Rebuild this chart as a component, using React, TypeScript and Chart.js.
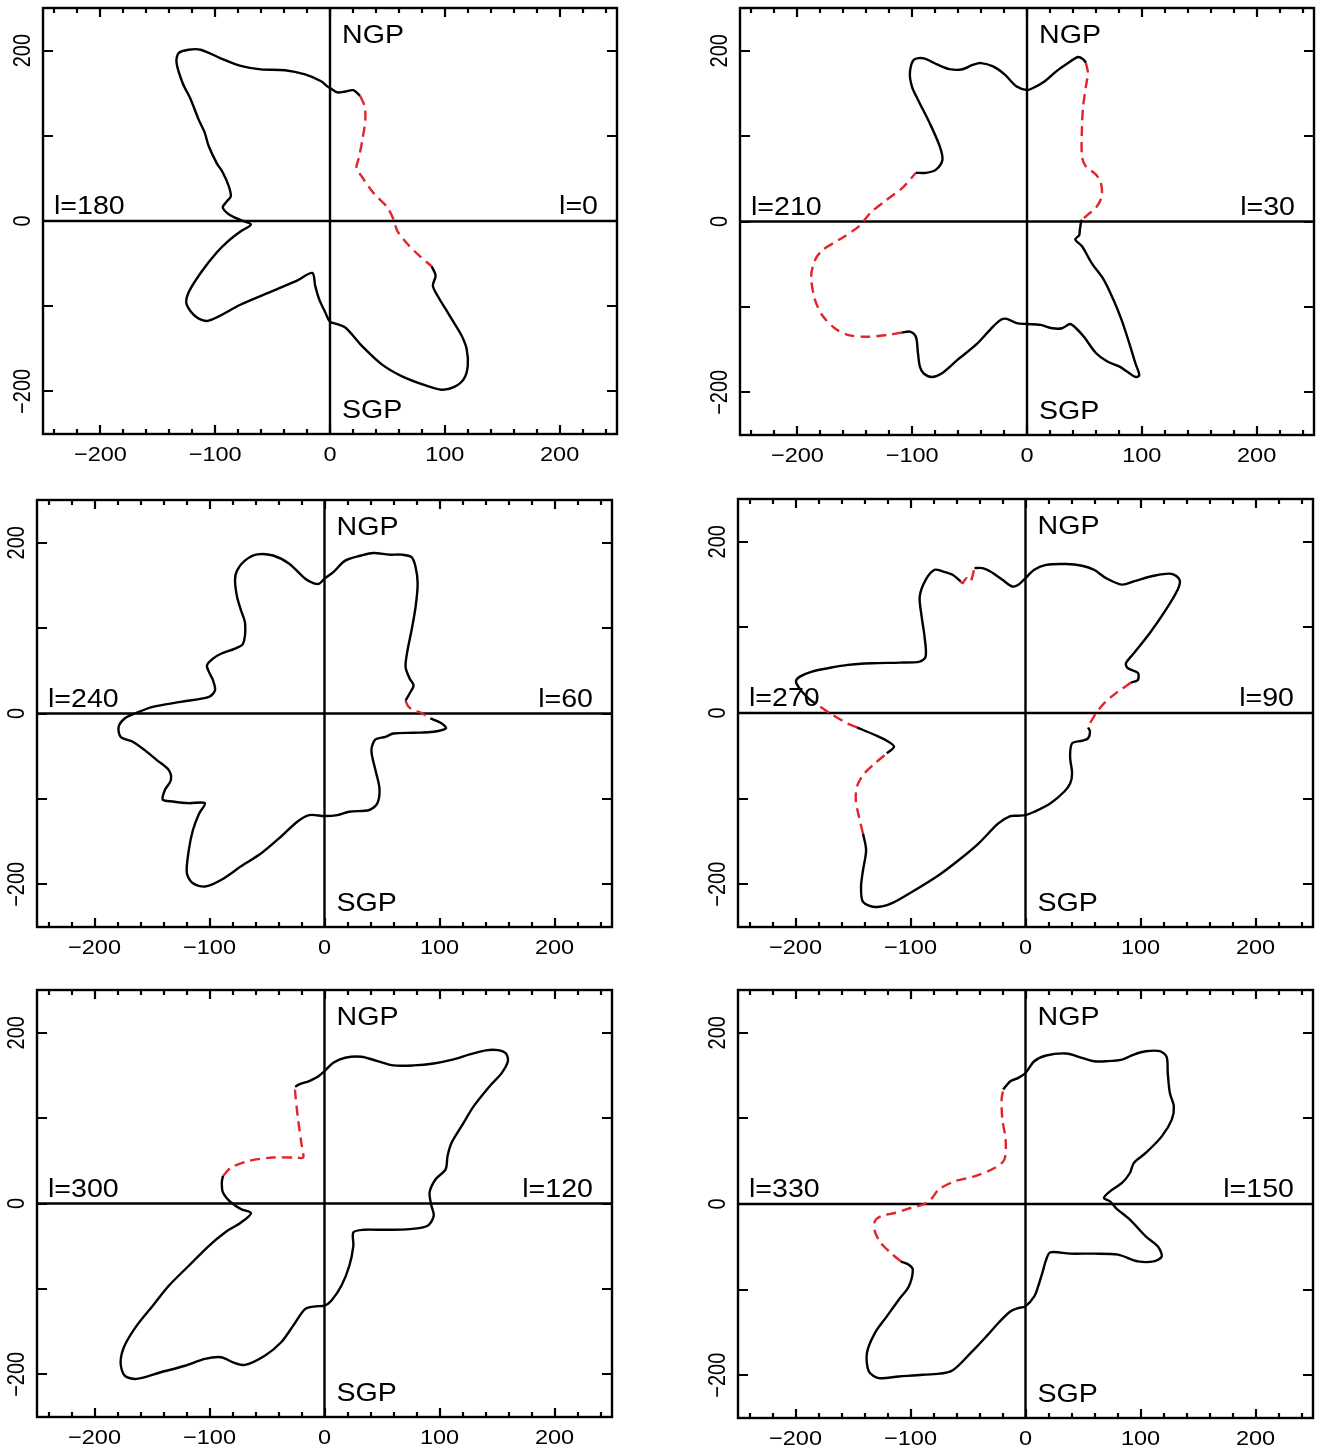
import React, { useEffect, useRef } from "react";
import { Chart, registerables } from "chart.js";
Chart.register(...registerables);

// ---------- tick values ----------
const xTickLabels = [-200, -100, 0, 100, 200];
const yTickLabels = [-200, 0, 200];
const yMajorTicks = [-200, -100, 0, 100, 200];
const xMinorTicks = [-240, -220, -200, -180, -160, -140, -120, -100, -80, -60, -40, -20, 0, 20, 40, 60, 80, 100, 120, 140, 160, 180, 200, 220, 240];

// ---------- panel labels ----------
const rightLabels = ["l=0", "l=30", "l=60", "l=90", "l=120", "l=150"];
const leftLabels = ["l=180", "l=210", "l=240", "l=270", "l=300", "l=330"];

// ---------- panel 1 (l=0 / l=180) ----------
const p1Solid = [[88.5,-53],[92,-64],[89.6,-76],[93.8,-88],[100.8,-103.5],[107.8,-119],[114.8,-135],[119,-150],[120,-170],[116.5,-185.5],[107.8,-195],[97.3,-198],[83.3,-193],[62.3,-182],[44.8,-168],[27.3,-146],[20.3,-135],[13.3,-125],[6.3,-121],[0,-118],[-4.2,-107],[-9.4,-92],[-12.9,-76],[-15.4,-61],[-28.7,-70],[-49.7,-82],[-77.7,-98],[-105.7,-117],[-116.2,-113],[-124.9,-98],[-123.2,-84],[-112.7,-61],[-98.7,-37],[-88.2,-23],[-77.7,-12],[-68.9,-4],[-77.7,1],[-88.2,8],[-93.4,16],[-89.9,23],[-86.4,29],[-88.2,41],[-93.4,57],[-98.7,68],[-105.7,88],[-109.2,104],[-114.4,119],[-121.4,143],[-128.4,162],[-133.7,186],[-131.9,197],[-123.2,201],[-112.7,201],[-95.2,191],[-77.7,182],[-60.2,178],[-39.2,177],[-21.7,172],[-7.7,164],[-2.4,158],[0,156],[6.3,151],[13.3,152],[20.3,153.5],[26.2,147]];
const p1Dash = [[26.2,147],[30.1,135],[30.8,119],[28.3,96],[25.5,76],[23.1,62.5],[27.3,53],[37.8,33],[50,16],[55.3,2],[58.8,-12],[67.5,-27],[78,-41],[88.5,-53]];

// ---------- panel 2 (l=30 / l=210) ----------
const p2SolidA = [[-96.8,57],[-88,57],[-79.5,60.5],[-73.7,72],[-76,88],[-84.7,115],[-95,142.6],[-100.2,158],[-102,174],[-98.5,189.5],[-89.9,191],[-77.8,183.6],[-67.5,178.5],[-57.2,178],[-46.8,183.6],[-40,185.5],[-29.6,181.6],[-19.3,172],[-9,158],[0,154],[4.8,156],[15.2,164],[25.5,175.8],[35.8,185.5],[44.4,192.6],[48.9,190],[51.3,186]];
const p2DashA = [[51.3,186],[53,174],[51.3,158],[48.9,135],[47.9,111],[47.9,76],[51.3,64.5],[60,55],[64.4,45],[65,29],[60,16],[53,8],[47.9,2]];
const p2SolidB = [[47.9,2],[47.2,0],[46,-10],[45.5,-16],[42,-21],[47.9,-29],[56.5,-49],[66.8,-68],[75.4,-92],[82.3,-115],[89.2,-143],[94.4,-166],[97.8,-180],[94.4,-182],[87.5,-176],[80.6,-170],[70,-164],[60,-154],[49.6,-135],[42.7,-125],[37.5,-120],[30.6,-125],[22,-125],[11.7,-121],[0,-120],[-9,-119],[-17.6,-114],[-22.7,-115],[-29.6,-123],[-43.4,-143],[-60.6,-162],[-74.4,-178],[-83,-182],[-90,-178],[-93.3,-170],[-95,-154],[-96.8,-135],[-102,-129],[-108.8,-130]];
const p2DashB = [[-108.8,-130],[-122.6,-133],[-139.8,-135],[-155.6,-133],[-167.4,-125],[-177.7,-111],[-184.6,-92],[-188,-64.5],[-184.6,-45],[-177.7,-33],[-163.9,-21.5],[-146.7,-6],[-136.4,10],[-122.6,25],[-108.8,39],[-96.8,57]];

// ---------- panel 3 (l=60 / l=240) ----------
const p3SolidA = [[0,158],[7.7,165.6],[18,179],[32,185],[42.6,188],[56.5,186],[67,186],[75.7,183],[79.2,171.5],[81,152],[79.2,124.7],[75.7,97.4],[72.2,74],[70.5,54.6],[74,41],[77.5,33],[74,23.4],[70.5,15]];
const p3Dash = [[70.5,15],[72.5,9],[75,5.8],[79,3],[83.6,1.2],[92,-5.8]];
const p3SolidB = [[92,-5.8],[102,-11.7],[105.6,-17.5],[95,-21.4],[77.5,-22.6],[60,-23.4],[53,-27.3],[44.3,-30.4],[40.8,-42.9],[44.3,-66.3],[47.8,-87.7],[46,-105],[39,-113],[21.6,-115],[11.2,-119],[0,-120],[-13.3,-119],[-23.7,-126.7],[-37.7,-144],[-55,-163.7],[-72.6,-179],[-90,-195],[-104,-202.6],[-114.4,-198.8],[-119.7,-187],[-118,-160],[-114.4,-136.4],[-109,-117],[-104,-105],[-118,-105],[-132,-103],[-140.6,-101],[-138.8,-89.6],[-133.6,-78],[-135.4,-66.3],[-145.8,-54.6],[-156.3,-42.9],[-166.8,-33],[-177.3,-27.3],[-179,-15.6],[-173.8,-5.8],[-165,0],[-149.3,7.8],[-125,13.6],[-100.5,19.5],[-95.2,27.3],[-97,39],[-100.5,48.7],[-102.2,56.5],[-97,64.3],[-90,70],[-77.8,76],[-70.8,81.8],[-69,105],[-72.6,120.8],[-76,136.4],[-77.8,156],[-76,167.6],[-69,179.3],[-58.6,186.3],[-44.7,185],[-30.7,175.4],[-16.7,157.8],[-9.8,152.8],[-4.5,152],[0,158]];

// ---------- panel 4 (l=90 / l=270) ----------
const p4SolidA = [[0,157.6],[7.6,167.3],[18,173],[35.3,174],[49.2,172],[59.6,167.3],[70,157.6],[83.9,150],[94.2,153.7],[111.6,160.3],[127,162.6],[134,155.6],[132.3,144],[122,120.5],[108,93.2],[94.2,69.8],[87.3,58],[89,52.3],[97.7,47],[97.7,38.6],[91.8,35.5]];
const p4DashA = [[91.8,35.5],[80.4,25],[68.3,11.3],[61.3,-0.4],[56.1,-12],[54.4,-16.8]];
const p4SolidB = [[54.4,-16.8],[56.1,-21.8],[54.4,-29.6],[49.2,-32.4],[40.5,-35.5],[38.8,-51],[40.5,-70.6],[38.8,-82.3],[33.6,-92],[21.5,-105.7],[7.6,-115.4],[0,-119.3],[-6.2,-120],[-13.2,-120.5],[-23.6,-129],[-40.9,-152.5],[-58.2,-172],[-75.5,-189.5],[-96.3,-207],[-117,-222.7],[-131,-226.6],[-141.3,-220.7],[-143,-203],[-141.3,-183.7],[-138.6,-160.3],[-141.3,-140.8]];
const p4DashB = [[-141.3,-140.8],[-144.8,-121.3],[-147.6,-101.8],[-146.6,-86.2],[-141.3,-72.5],[-131,-58.9],[-120.6,-47.2]];
const p4SolidC = [[-120.6,-47.2],[-114.3,-39.4],[-120.6,-32.4],[-131,-25.7],[-146.6,-16.8]];
const p4DashC = [[-146.6,-16.8],[-155.2,-12],[-169,-1.2],[-183,11.3]];
const p4SolidD = [[-183,11.3],[-188.7,17.2],[-195.6,27],[-199.6,36.7],[-196.2,42.5],[-185.7,48.4],[-171.8,52.3],[-154.5,56.2],[-133.6,58.1],[-109.3,58.9],[-92,60],[-86.8,66],[-87.8,89.3],[-90.3,112.7],[-92,136],[-86.8,155.6],[-79,167.3],[-72,165.4],[-63.4,161.5],[-56.5,153.7]];
const p4DashD = [[-56.5,153.7],[-54.7,151.7],[-51.3,157.6],[-47.8,153.7],[-44.4,169.3]];
const p4SolidE = [[-44.4,169.3],[-37.4,169.3],[-30.5,165.4],[-20.1,155.6],[-11.4,147.8],[-6.2,149.8],[0,157.6]];

// ---------- panel 5 (l=120 / l=300) ----------
const p5Solid = [[-25.5,136.8],[-22,139.5],[-13.3,143.4],[-6.3,148],[0,155],[7.7,164.8],[18,170.7],[32,171.9],[46,166.8],[60,161.7],[77.5,161.7],[95,164],[112.3,168.7],[126.3,174.6],[140.3,179.3],[150.7,179.6],[157.7,175.8],[159.5,166.8],[154.2,153],[143.8,137.6],[129.8,114],[119.3,90.8],[110.6,71.3],[107,55.7],[105.3,40],[96.6,28.4],[91.4,12.9],[93,-2.7],[95,-14.4],[89.7,-26.1],[74,-30],[53,-30.8],[33.8,-30.8],[25.1,-33.9],[25.1,-49.5],[21.6,-72.9],[14.7,-96.3],[5.9,-113.8],[0,-119.6],[-8,-120.4],[-16.7,-123.5],[-27.2,-143],[-37.7,-162.5],[-51.6,-178],[-69,-189],[-79.5,-186],[-90,-180],[-104,-182],[-121.4,-190],[-142.4,-197.6],[-163.3,-205.4],[-173.8,-201.5],[-177.3,-186],[-173.8,-166.4],[-163.3,-143],[-149.3,-119.6],[-135.4,-96.3],[-118,-72.9],[-100.5,-49.5],[-86.5,-33.9],[-72.6,-22.2],[-63.9,-11.3],[-72.6,-6.6],[-81.3,1.2],[-88.3,12.9],[-89.3,24.6],[-88.3,32.3]];
const p5Dash = [[-88.3,32.3],[-81.3,42],[-65.6,49.9],[-44.7,53.8],[-23.7,53.8],[-18.5,53.8],[-20.2,71.3],[-23,98.6],[-25.5,129.8],[-25.5,136.8]];

// ---------- panel 6 (l=150 / l=330) ----------
const p6Solid = [[-19.4,133.7],[-13.2,143.4],[-6.2,147.3],[0,153],[7.6,166.8],[18,173.5],[35.3,175.8],[49.2,170.7],[59.6,166.8],[70,166.8],[83.9,168.7],[94.2,174.6],[104.6,178.5],[116.8,178.5],[122.7,171.9],[123.7,153],[125.5,129.8],[129,114],[127.2,98.6],[118.5,79],[104.6,59.6],[94.2,48],[90.8,36.2],[83.9,24.6],[73.5,14.8],[68.2,7],[73.5,3.1],[78.6,-4.7],[90.8,-18.3],[104.6,-37.8],[115,-49.5],[118.5,-61.2],[111.6,-67],[97.7,-67],[80.4,-59.2],[59.6,-58],[38.8,-58],[21.5,-56.5],[18,-65],[14.6,-80.7],[11,-96.3],[7.6,-108],[0,-119.6],[-6.2,-121.6],[-13.2,-125.5],[-23.6,-139],[-34,-154.7],[-47.8,-174.2],[-65.1,-195.6],[-89.4,-199.5],[-110.2,-201.5],[-127.5,-203.4],[-136.2,-195.6],[-137.9,-174.2],[-131,-150.8],[-120.6,-131.3],[-110.2,-111.8],[-101.5,-96.3],[-98,-76.8],[-101.5,-70.9],[-108.5,-67]];
const p6Dash = [[-108.5,-67],[-117,-57.3],[-125.8,-45.6],[-131,-32],[-131,-20.3],[-125.8,-14.4],[-113.7,-10.5],[-99.8,-4.7],[-89.4,-0.8],[-82.5,5],[-75.5,16.8],[-61.7,26.5],[-44.4,32.3],[-27,42],[-18.4,51.8],[-17.3,75.2],[-20.1,98.6],[-20.8,122],[-19.4,133.7]];

const panelSegments = [
  [{ dash: false, pts: p1Solid }, { dash: true, pts: p1Dash }],
  [{ dash: false, pts: p2SolidA }, { dash: true, pts: p2DashA }, { dash: false, pts: p2SolidB }, { dash: true, pts: p2DashB }],
  [{ dash: false, pts: p3SolidA }, { dash: true, pts: p3Dash }, { dash: false, pts: p3SolidB }],
  [{ dash: false, pts: p4SolidA }, { dash: true, pts: p4DashA }, { dash: false, pts: p4SolidB }, { dash: true, pts: p4DashB }, { dash: false, pts: p4SolidC }, { dash: true, pts: p4DashC }, { dash: false, pts: p4SolidD }, { dash: true, pts: p4DashD }, { dash: false, pts: p4SolidE }],
  [{ dash: false, pts: p5Solid }, { dash: true, pts: p5Dash }],
  [{ dash: false, pts: p6Solid }, { dash: true, pts: p6Dash }],
];

// ---------- layout (canvas cells and plot padding) ----------
const cells = [
  { x: 0, y: 0, w: 661, h: 482, pad: { left: 43, top: 8, right: 44, bottom: 48 } },
  { x: 661, y: 0, w: 661, h: 482, pad: { left: 79, top: 8, right: 8, bottom: 47 } },
  { x: 0, y: 482, w: 661, h: 491, pad: { left: 37, top: 18, right: 49, bottom: 46 } },
  { x: 661, y: 482, w: 661, h: 491, pad: { left: 77, top: 17, right: 9, bottom: 46 } },
  { x: 0, y: 973, w: 661, h: 475, pad: { left: 37, top: 17, right: 49, bottom: 31 } },
  { x: 661, y: 973, w: 661, h: 475, pad: { left: 77, top: 17, right: 9, bottom: 30 } },
];

const FONT = "'Liberation Sans', Arial, Helvetica, sans-serif";
const RED = "#e3242b";

function fmt(v: number) {
  return v < 0 ? "\u2212" + Math.abs(v) : String(v);
}

function drawText(ctx: CanvasRenderingContext2D, s: string, x: number, y: number, size: number, align: CanvasTextAlign, sx: number, rotate = false) {
  ctx.save();
  ctx.translate(x, y);
  ctx.scale(sx, 1);
  if (rotate) ctx.rotate(-Math.PI / 2);
  ctx.font = `${size}px ${FONT}`;
  ctx.fillStyle = "#000";
  ctx.textAlign = align;
  ctx.textBaseline = "alphabetic";
  ctx.fillText(s, 0, 0);
  ctx.restore();
}

const decorPlugin = {
  id: "decor",
  beforeDatasetsDraw(chart: any) {
    const { ctx, chartArea, scales } = chart;
    const { left, right, top, bottom } = chartArea;
    const x0 = scales.x.getPixelForValue(0);
    const y0 = scales.y.getPixelForValue(0);
    ctx.save();
    ctx.strokeStyle = "#000";
    ctx.lineWidth = 2.4;
    ctx.beginPath();
    ctx.moveTo(left, y0);
    ctx.lineTo(right, y0);
    ctx.moveTo(x0, top);
    ctx.lineTo(x0, bottom);
    ctx.stroke();
    ctx.restore();
  },
  afterDraw(chart: any, _args: any, opts: any) {
    const { ctx, chartArea, scales } = chart;
    const { left, right, top, bottom } = chartArea;
    const xs = scales.x, ys = scales.y;
    ctx.save();
    ctx.strokeStyle = "#000";
    ctx.lineWidth = 2.4;
    ctx.strokeRect(left, top, right - left, bottom - top);
    ctx.beginPath();
    for (const v of xMinorTicks) {
      const px = Math.round(xs.getPixelForValue(v));
      const len = xTickLabels.includes(v) ? 9 : 5;
      ctx.moveTo(px, bottom);
      ctx.lineTo(px, bottom - len);
      ctx.moveTo(px, top);
      ctx.lineTo(px, top + len);
    }
    for (const v of yMajorTicks) {
      const py = Math.round(ys.getPixelForValue(v));
      ctx.moveTo(left, py);
      ctx.lineTo(left + 10, py);
      ctx.moveTo(right, py);
      ctx.lineTo(right - 10, py);
    }
    ctx.lineWidth = 2.2;
    ctx.stroke();
    ctx.restore();

    for (const v of xTickLabels) {
      drawText(ctx, fmt(v), xs.getPixelForValue(v), bottom + 27, 21, "center", 1.12);
    }
    for (const v of yTickLabels) {
      drawText(ctx, fmt(v), left - 13, ys.getPixelForValue(v), 20, "center", 1.2, true);
    }
    const x0 = xs.getPixelForValue(0);
    const y0 = ys.getPixelForValue(0);
    drawText(ctx, "NGP", x0 + 12, top + 35, 26, "left", 1.1);
    drawText(ctx, "SGP", x0 + 12, bottom - 16, 26, "left", 1.1);
    drawText(ctx, opts.leftLabel, left + 11, y0 - 7, 26, "left", 1.1);
    drawText(ctx, opts.rightLabel, right - 19, y0 - 7, 26, "right", 1.1);
  },
};

function Panel({ index }: { index: number }) {
  const ref = useRef<HTMLCanvasElement | null>(null);
  const cell = cells[index];
  useEffect(() => {
    if (!ref.current) return;
    const datasets = panelSegments[index].map((seg) => ({
      data: seg.pts.map(([x, y]) => ({ x, y })),
      showLine: true,
      borderColor: seg.dash ? RED : "#000",
      borderWidth: 2.4,
      borderDash: seg.dash ? [10, 6] : [],
      pointRadius: 0,
      pointHoverRadius: 0,
      tension: 0.3,
      fill: false,
    }));
    const chart = new Chart(ref.current, {
      type: "scatter",
      data: { datasets },
      options: {
        responsive: false,
        animation: false,
        events: [],
        layout: { padding: cell.pad },
        plugins: {
          legend: { display: false },
          tooltip: { enabled: false },
          decor: { leftLabel: leftLabels[index], rightLabel: rightLabels[index] },
        } as any,
        scales: {
          x: { type: "linear", min: -250, max: 250, display: false },
          y: { type: "linear", min: -250, max: 250, display: false },
        },
      },
      plugins: [decorPlugin],
    } as any);
    return () => chart.destroy();
  }, [index]);
  return (
    <canvas
      ref={ref}
      width={cell.w}
      height={cell.h}
      style={{ position: "absolute", left: cell.x, top: cell.y, width: cell.w, height: cell.h }}
    />
  );
}

export default function App() {
  return (
    <div style={{ position: "absolute", left: 0, top: 0, width: 1322, height: 1448, background: "#fff" }}>
      {cells.map((_, i) => (
        <Panel key={i} index={i} />
      ))}
    </div>
  );
}
